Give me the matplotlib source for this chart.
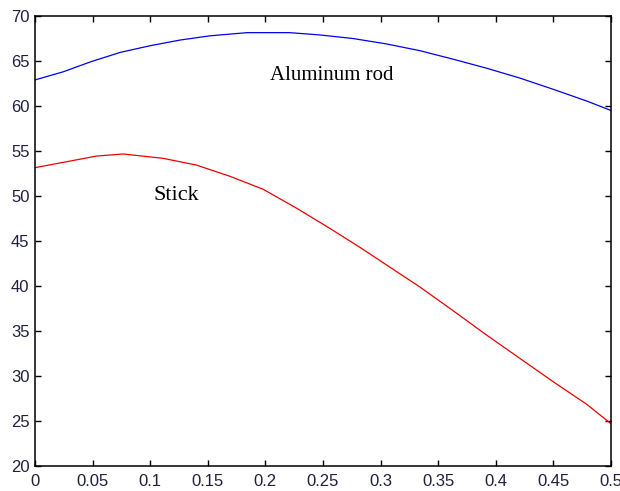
import matplotlib.pyplot as plt
import numpy as np

# values
x_rod = [0, 0.0245, 0.048, 0.074, 0.1, 0.126, 0.152, 0.184, 0.221, 0.247,
         0.276, 0.305, 0.334, 0.363, 0.392, 0.421, 0.45, 0.479, 0.5]
y_rod = [62.9, 63.8, 64.9, 65.96, 66.7, 67.33, 67.8, 68.15, 68.15, 67.9,
         67.5, 66.9, 66.15, 65.2, 64.2, 63.1, 61.85, 60.55, 59.5]

x_stick = [0, 0.0245, 0.0535, 0.0766, 0.111, 0.14, 0.169, 0.198, 0.227, 0.256,
           0.282, 0.305, 0.334, 0.363, 0.392, 0.421, 0.45, 0.479, 0.5]
y_stick = [53.15, 53.74, 54.44, 54.67, 54.19, 53.44, 52.2, 50.75, 48.65, 46.4,
           44.3, 42.35, 39.9, 37.25, 34.55, 31.95, 29.35, 26.85, 24.7]

xticks = np.arange(0, 0.501, 0.05)
xtick_labels = ["0", "0.05", "0.1", "0.15", "0.2", "0.25", "0.3", "0.35", "0.4", "0.45", "0.5"]
yticks = np.arange(20, 71, 5)

fig = plt.figure(figsize=(6.2, 4.91), dpi=100)
ax = fig.add_axes([0.0565, 0.0509, 0.929, 0.9165])

ax.plot(x_rod, y_rod, color="#0000ee", lw=0.9)
ax.plot(x_stick, y_stick, color="#ee0000", lw=0.9)

ax.text(0.258, 62.85, "Aluminum rod", family="Liberation Serif", fontsize=15,
        ha="center", va="baseline")
ax.text(0.123, 49.56, "Stick", family="Liberation Serif", fontsize=16,
        ha="center", va="baseline")

ax.set_xlim(0, 0.5)
ax.set_ylim(20, 70)
ax.set_xticks(xticks)
ax.set_xticklabels(xtick_labels)
ax.set_yticks(yticks)
ax.tick_params(direction="in", length=4.5, width=1, top=True, right=True,
               labelsize=12, labelcolor="#1f1f3f")
ax.tick_params(axis="x", pad=6)
ax.tick_params(axis="y", pad=4)
for lab in ax.get_xticklabels() + ax.get_yticklabels():
    lab.set_family("Liberation Sans")
for s in ax.spines.values():
    s.set_linewidth(1.1)

fig.savefig("out.png", dpi=100)
